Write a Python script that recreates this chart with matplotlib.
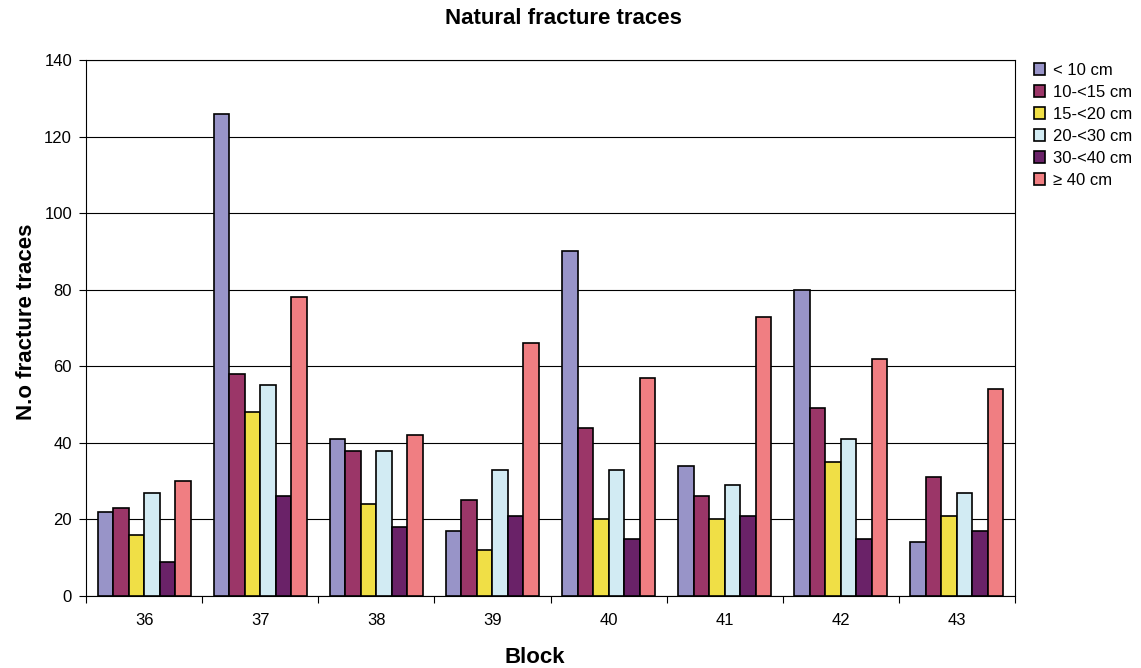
import numpy as np
import matplotlib
matplotlib.use("Agg")
import matplotlib.pyplot as plt
from matplotlib.patches import Patch

plt.rcParams['font.family'] = ['Liberation Sans', 'DejaVu Sans']

blocks = ["36", "37", "38", "39", "40", "41", "42", "43"]
series_names = ["< 10 cm", "10-<15 cm", "15-<20 cm", "20-<30 cm", "30-<40 cm", "\u2265 40 cm"]
lt10 = [22, 126, 41, 17, 90, 34, 80, 14]
s10_15 = [23, 58, 38, 25, 44, 26, 49, 31]
s15_20 = [16, 48, 24, 12, 20, 20, 35, 21]
s20_30 = [27, 55, 38, 33, 33, 29, 41, 27]
s30_40 = [9, 26, 18, 21, 15, 21, 15, 17]
ge40 = [30, 78, 42, 66, 57, 73, 62, 54]
series = [lt10, s10_15, s15_20, s20_30, s30_40, ge40]
colors = ["#9894C8", "#9B3668", "#F0DF46", "#D2EBF3", "#6A2268", "#F07E82"]

W, H = 1141, 668
fig = plt.figure(figsize=(W / 100, H / 100), dpi=100)
ax = fig.add_axes([86 / W, 72 / H, 929 / W, 536 / H])

n = len(series)
bw = 1 / 7.5
x = np.arange(len(blocks))
for i, (vals, c) in enumerate(zip(series, colors)):
    ax.bar(x + (i - (n - 1) / 2) * bw, vals, width=bw, color=c,
           edgecolor="black", linewidth=1.2, zorder=3, label=series_names[i])

ax.set_xlim(-0.5, len(blocks) - 0.5)
ax.set_ylim(0, 140)
ax.set_yticks(np.arange(0, 141, 20))
ax.yaxis.grid(True, color="black", linewidth=0.8, zorder=0)
ax.set_xticks(x)
ax.set_xticklabels(blocks, fontsize=12)
ax.set_xticks(np.arange(-0.5, len(blocks), 1), minor=True)
ax.tick_params(axis="x", which="major", length=0, pad=12)
ax.tick_params(axis="x", which="minor", length=5, direction="out", width=0.8)
ax.tick_params(axis="y", length=5, direction="out", labelsize=12, width=0.8, pad=5)
for s in ax.spines.values():
    s.set_color("black")
    s.set_linewidth(0.8)

# axis titles and chart title
fig.text(535 / W, 1 - 663 / H, "Block", ha="center", va="baseline",
         fontsize=16, fontweight="bold")
fig.text(27 / W, 1 - 322 / H, "N.o fracture traces", ha="center", va="center",
         rotation=90, fontsize=16, fontweight="bold")
fig.text(563 / W, 1 - 18 / H, "Natural fracture traces",
         ha="center", va="center", fontsize=16, fontweight="bold")

handles = [Patch(facecolor=c, edgecolor="black", linewidth=1.2) for c in colors]
fig.legend(handles, series_names, loc="upper left", bbox_to_anchor=(1027 / W, 1 - 56 / H),
           frameon=False, fontsize=12, handlelength=0.7, handleheight=0.7,
           handletextpad=0.45, labelspacing=0.42, borderaxespad=0)

fig.savefig("out.png", dpi=100)
